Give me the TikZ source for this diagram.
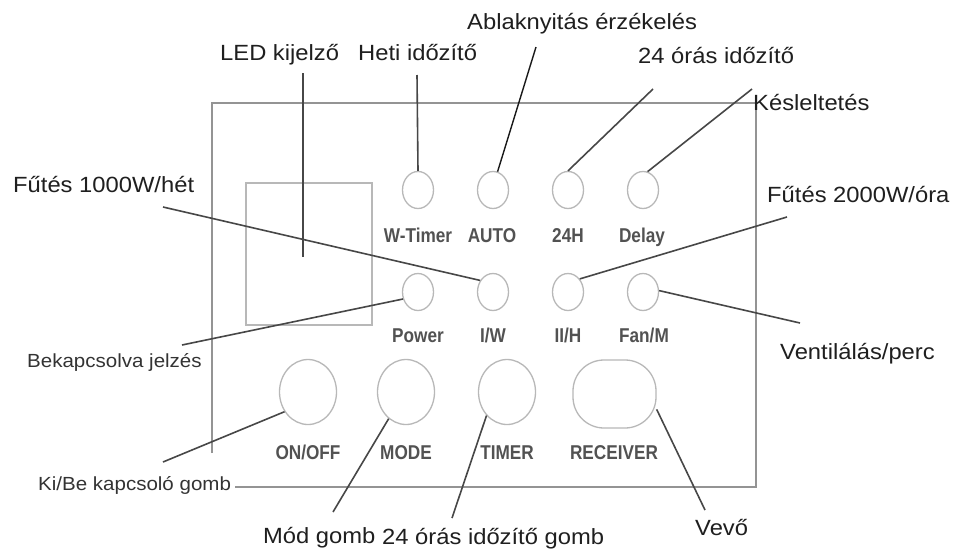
\documentclass[tikz,border=0pt]{standalone}
\usepackage{fontspec}
\setmainfont{Liberation Sans}
\newfontfamily\lblfont[FakeStretch=1.08]{Liberation Sans}
\newfontfamily\panfont[FakeStretch=0.86]{Liberation Sans}
\usetikzlibrary{shapes.geometric}
\begin{document}
\begin{tikzpicture}[x=1pt,y=-1pt,
  lbl/.style={inner sep=0pt, anchor=base west, font=\lblfont\fontsize{22}{26}\selectfont, text=black!88},
  sml/.style={inner sep=0pt, anchor=base west, font=\lblfont\fontsize{19}{22}\selectfont, text=black!80},
  pan/.style={inner sep=0pt, anchor=base, font=\panfont\bfseries\fontsize{20}{24}\selectfont, text=black!68},
  btn/.style={ellipse, draw=black!28, line width=1.3pt, minimum width=31pt, minimum height=37pt, inner sep=0pt},
  bigbtn/.style={ellipse, draw=black!28, line width=1.3pt, minimum width=57pt, minimum height=65pt, inner sep=0pt},
  rcvbox/.style={rectangle, rounded corners=31pt, draw=black!28, line width=1.3pt, minimum width=83pt, minimum height=68pt, inner sep=0pt},
  ledbox/.style={rectangle, draw=black!28, line width=1.2pt, minimum width=126pt, minimum height=142pt, inner sep=0pt},
  panel/.style={draw=black!42, line width=2.4pt},
  lead/.style={draw=black!72, line width=1.6pt},
]
\useasboundingbox[fill=white] (0,0) rectangle (955,552);

% panel outline
\draw[panel] (212,453) -- (212,103) -- (756,103) -- (756,487) -- (235,487);

% LED display
\node[ledbox] (led) at (309,254) {};

% small buttons
\node[btn] (wt) at (418,190) {};
\node[btn] (auto) at (493,190) {};
\node[btn] (h24) at (568,190) {};
\node[btn] (delay) at (643,190) {};
\node[btn] (power) at (418,292) {};
\node[btn] (iw) at (493,292) {};
\node[btn] (iih) at (568,292) {};
\node[btn] (fan) at (643,292) {};
% big buttons
\node[bigbtn] (onoff) at (308,392) {};
\node[bigbtn] (mode) at (406,392) {};
\node[bigbtn] (timer) at (507,392) {};
\node[rcvbox] (rcv) at (614.5,394) {};

% panel labels
\node[pan] (lwt) at (418,242) {W-Timer};
\node[pan] (lauto) at (492,242) {AUTO};
\node[pan] (lh24) at (568,242) {24H};
\node[pan] (ldelay) at (642,242) {Delay};
\node[pan] (lpower) at (418,342) {Power};
\node[pan] (liw) at (493,342) {I/W};
\node[pan] (liih) at (568,342) {II/H};
\node[pan] (lfan) at (644,342) {Fan/M};
\node[pan] (lonoff) at (308,459) {ON/OFF};
\node[pan] (lmode) at (406,459) {MODE};
\node[pan] (ltimer) at (507,459) {TIMER};
\node[pan] (lrcv) at (614,459) {RECEIVER};

% callout labels
\node[lbl] (tled) at (220,60) {LED kijelző};
\node[lbl] (theti) at (358,60) {Heti időzítő};
\node[lbl] (tabl) at (467,29) {Ablaknyitás érzékelés};
\node[lbl] (t24) at (638,63) {24 órás időzítő};
\node[lbl] (tkes) at (753,110) {Késleltetés};
\node[lbl] (tf1) at (13,192) {Fűtés 1000W/hét};
\node[lbl] (tf2) at (767,202) {Fűtés 2000W/óra};
\node[sml] (tbek) at (27,367) {Bekapcsolva jelzés};
\node[lbl] (tven) at (780,359) {Ventilálás/perc};
\node[sml] (tkib) at (38,490) {Ki/Be kapcsoló gomb};
\node[lbl] (tmod) at (263,543) {Mód gomb};
\node[lbl] (t24g) at (382,544) {24 órás időzítő gomb};
\node[lbl] (tvev) at (695,535) {Vevő};

% leader line ends
\coordinate (cled) at (303,73);
\coordinate (cledin) at (303,257);
\coordinate (cheti) at (417,75);
\coordinate (cabl) at (536,47);
\coordinate (c24) at (653,89);
\coordinate (ckes) at (752,89);
\coordinate (cf1) at (163,207);
\coordinate (cf2) at (787,217);
\coordinate (cbek) at (182,345);
\coordinate (cven) at (800,323);
\coordinate (ckib) at (163,462);
\coordinate (cmod) at (333,512);
\coordinate (c24g) at (452,518);
\coordinate (cvev) at (705,510);

% leader lines
\draw[lead] (cled) -- (cledin);
\draw[lead] (cheti) -- (wt.north);
\draw[lead, draw=black!90, line width=1.4pt] (cabl) -- (auto.76);
\draw[lead] (c24) -- (h24.north);
\draw[lead] (ckes) -- (delay.76);
\draw[lead] (cf1) -- (iw.138);
\draw[lead] (cf2) -- (iih.48);
\draw[lead] (cbek) -- (power.205);
\draw[lead] (cven) -- (fan.5);
\draw[lead] (ckib) -- (onoff.220);
\draw[lead] (cmod) -- (mode.237);
\draw[lead] (c24g) -- (timer.229);
\draw[lead] (cvev) -- (rcv.-20);
\end{tikzpicture}
\end{document}
